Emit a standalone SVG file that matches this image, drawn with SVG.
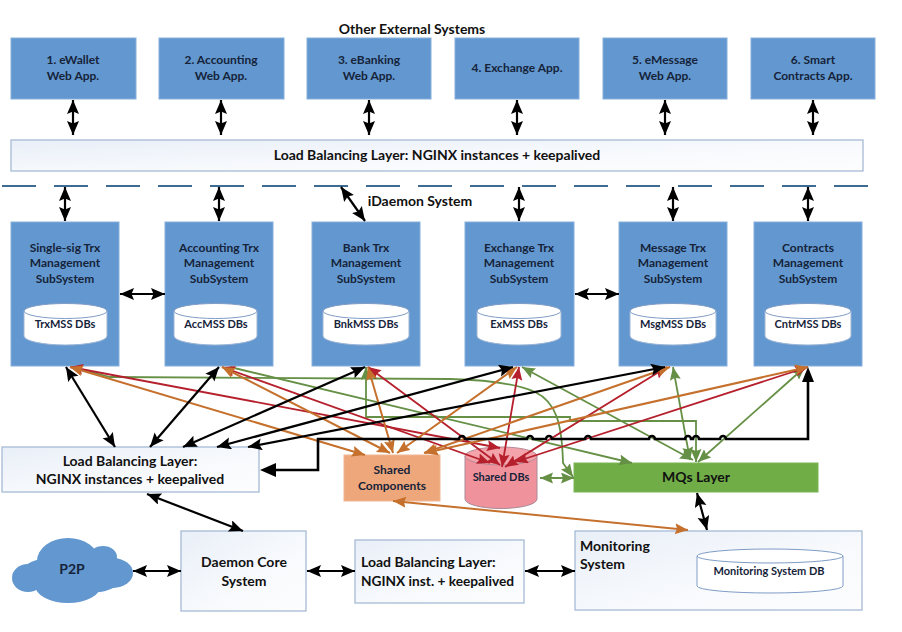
<svg xmlns="http://www.w3.org/2000/svg" width="902" height="632" viewBox="0 0 902 632">
<style>
text{font-family:"Lato","Open Sans","Liberation Sans",sans-serif;font-weight:700;text-anchor:middle;fill:#16233a;font-size:12px}
.app{fill:#6298cf;stroke:#86aedb;stroke-width:1}
.light{fill:url(#pale);stroke:#a6bbd6;stroke-width:1.3}
.db{fill:#fff;stroke:#9db5d6;stroke-width:1}
.dbtop{fill:#fff;stroke:#7f9cc6;stroke-width:1}
.big{font-size:14px;fill:#111}
.dbl{font-size:11px}
.blk,.red,.org,.grn,.thk{fill:none}
.blk{stroke:#000;stroke-width:2.2}
.thk{stroke:#000;stroke-width:2.6}
.red{stroke:#b5202c;stroke-width:1.8}
.org{stroke:#c5702c;stroke-width:2}
.grn{stroke:#659045;stroke-width:1.8}
.blk{marker-start:url(#ab);marker-end:url(#ab)}
.red{marker-start:url(#ar);marker-end:url(#ar)}
.org{marker-start:url(#ao);marker-end:url(#ao)}
.grn{marker-start:url(#ag);marker-end:url(#ag)}
</style>
<defs>
<linearGradient id="pale" x1="0" y1="0" x2="1" y2="1"><stop offset="0" stop-color="#e9eff8"/><stop offset="0.6" stop-color="#f8fafd"/><stop offset="1" stop-color="#fdfdfe"/></linearGradient>
<marker id="ab" markerUnits="userSpaceOnUse" markerWidth="16" markerHeight="13" refX="14" refY="6" orient="auto-start-reverse"><path d="M0 0L14 6L0 12L2.500 6Z" fill="#000"/></marker>
<marker id="ar" markerUnits="userSpaceOnUse" markerWidth="15" markerHeight="13" refX="13" refY="5.500" orient="auto-start-reverse"><path d="M0 0L13 5.500L0 11L2 5.500Z" fill="#b5202c"/></marker>
<marker id="ao" markerUnits="userSpaceOnUse" markerWidth="15" markerHeight="13" refX="13" refY="5.500" orient="auto-start-reverse"><path d="M0 0L13 5.500L0 11L2 5.500Z" fill="#c5702c"/></marker>
<marker id="ag" markerUnits="userSpaceOnUse" markerWidth="15" markerHeight="13" refX="13" refY="5.500" orient="auto-start-reverse"><path d="M0 0L13 5.500L0 11L2 5.500Z" fill="#659045"/></marker>
</defs>
<rect width="902" height="632" fill="#fff"/>

<text id="external-title" x="412" y="34" class="big">Other External Systems</text>
<text id="idaemon-title" x="420" y="206" class="big">iDaemon System</text>

<g id="app-1"><rect class="app" x="11" y="38" width="125" height="61"/><text x="73" y="64">1. eWallet</text><text x="73" y="80">Web App.</text></g>
<g id="app-2"><rect class="app" x="159" y="38" width="125" height="61"/><text x="221" y="64">2. Accounting</text><text x="221" y="80">Web App.</text></g>
<g id="app-3"><rect class="app" x="307" y="38" width="124" height="61"/><text x="369" y="64">3. eBanking</text><text x="369" y="80">Web App.</text></g>
<g id="app-4"><rect class="app" x="455" y="38" width="124" height="61"/><text x="517" y="72">4. Exchange App.</text></g>
<g id="app-5"><rect class="app" x="603" y="38" width="124" height="61"/><text x="665" y="64">5. eMessage</text><text x="665" y="80">Web App.</text></g>
<g id="app-6"><rect class="app" x="751" y="38" width="124" height="61"/><text x="813" y="64">6. Smart</text><text x="813" y="80">Contracts App.</text></g>

<g id="lb-top"><rect class="light" x="11" y="140" width="852" height="31"/><text x="437" y="160" class="big">Load Balancing Layer: NGINX instances + keepalived</text></g>
<path id="system-boundary" d="M2 186H868" fill="none" stroke="#3d6b92" stroke-width="2" stroke-dasharray="34 18"/>

<g id="sub-1"><rect class="app" x="11" y="222" width="108" height="144"/><text x="65" y="252">Single-sig Trx</text><text x="65" y="267">Management</text><text x="65" y="283">SubSystem</text>
<path class="db" d="M24 311V336A41.500 9 0 0 0 107 336V311Z"/><ellipse class="dbtop" cx="65.500" cy="311" rx="41.500" ry="7.500"/><text x="65" y="328" class="dbl">TrxMSS DBs</text></g>
<g id="sub-2"><rect class="app" x="165" y="222" width="108" height="144"/><text x="219" y="252">Accounting Trx</text><text x="219" y="267">Management</text><text x="219" y="283">SubSystem</text>
<path class="db" d="M174 311V336A41.500 9 0 0 0 257 336V311Z"/><ellipse class="dbtop" cx="215.500" cy="311" rx="41.500" ry="7.500"/><text x="216" y="328" class="dbl">AccMSS DBs</text></g>
<g id="sub-3"><rect class="app" x="312" y="222" width="108" height="144"/><text x="366" y="252">Bank Trx</text><text x="366" y="267">Management</text><text x="366" y="283">SubSystem</text>
<path class="db" d="M323 311V336A43 9 0 0 0 409 336V311Z"/><ellipse class="dbtop" cx="366" cy="311" rx="43" ry="7.500"/><text x="366" y="328" class="dbl">BnkMSS DBs</text></g>
<g id="sub-4"><rect class="app" x="465" y="222" width="109" height="144"/><text x="519" y="252">Exchange Trx</text><text x="519" y="267">Management</text><text x="519" y="283">SubSystem</text>
<path class="db" d="M477 311V336A42 9 0 0 0 561 336V311Z"/><ellipse class="dbtop" cx="519" cy="311" rx="42" ry="7.500"/><text x="519" y="328" class="dbl">ExMSS DBs</text></g>
<g id="sub-5"><rect class="app" x="619" y="222" width="108" height="144"/><text x="673" y="252">Message Trx</text><text x="673" y="267">Management</text><text x="673" y="283">SubSystem</text>
<path class="db" d="M630 311V336A43 9 0 0 0 716 336V311Z"/><ellipse class="dbtop" cx="673" cy="311" rx="43" ry="7.500"/><text x="673" y="328" class="dbl">MsgMSS DBs</text></g>
<g id="sub-6"><rect class="app" x="754" y="222" width="108" height="144"/><text x="808" y="252">Contracts</text><text x="808" y="267">Management</text><text x="808" y="283">SubSystem</text>
<path class="db" d="M765 311V336A43 9 0 0 0 851 336V311Z"/><ellipse class="dbtop" cx="808" cy="311" rx="43" ry="7.500"/><text x="808" y="328" class="dbl">CntrMSS DBs</text></g>

<g id="lb-left"><rect class="light" x="2" y="447" width="257" height="45"/><text x="130" y="466" class="big">Load Balancing Layer:</text><text x="130" y="484" class="big">NGINX instances + keepalived</text></g>
<g id="shared-components"><rect x="344" y="455" width="96" height="46" fill="#eea77b" stroke="#f0b58f"/><text x="392" y="474">Shared</text><text x="392" y="490">Components</text></g>
<g id="shared-dbs"><path d="M465 456V499A36 9.500 0 0 0 537 499V456Z" fill="#f0929c" stroke="#a88b96"/><ellipse cx="501" cy="456" rx="36" ry="9" fill="#f4a3ab" stroke="#b58a94"/><text x="501" y="481" class="dbl">Shared DBs</text></g>
<g id="mq-layer"><rect x="574" y="463" width="244" height="29" fill="#70ad47" stroke="#7db556"/><text x="696" y="482" class="big">MQs Layer</text></g>

<g id="p2p" fill="#6298cf"><ellipse cx="28" cy="578" rx="16" ry="14"/><ellipse cx="68" cy="561" rx="31" ry="23"/><ellipse cx="103" cy="557" rx="14" ry="11"/><ellipse cx="113" cy="573" rx="20" ry="15"/><ellipse cx="68" cy="585" rx="33" ry="18"/><ellipse cx="45" cy="575" rx="24" ry="16"/><ellipse cx="96" cy="581" rx="22" ry="11"/><text x="72" y="574" class="big" style="fill:#16233a">P2P</text></g>
<g id="daemon-core"><rect class="light" x="181" y="531" width="125" height="80"/><text x="244" y="567" class="big">Daemon Core</text><text x="244" y="586" class="big">System</text></g>
<g id="lb-bottom"><rect class="light" x="355" y="540" width="169" height="63"/><text x="361" y="567" class="big" style="text-anchor:start">Load Balancing Layer:</text><text x="361" y="586" class="big" style="text-anchor:start;font-size:13.700px">NGINX inst. + keepalived</text></g>
<g id="monitoring"><rect class="light" x="575" y="531" width="287" height="79"/><text x="580" y="551" class="big" style="text-anchor:start">Monitoring</text><text x="580" y="569" class="big" style="text-anchor:start">System</text>
<path d="M697 556V586A73 7 0 0 0 843 586V556Z" fill="#fff" stroke="#7f9cc6"/><ellipse cx="770" cy="556" rx="73" ry="7" fill="#fff" stroke="#7f9cc6"/><text x="769" y="575" class="dbl">Monitoring System DB</text></g>

<g id="connectors">
<path class="blk" d="M73 100V135"/><path class="blk" d="M221 100V135"/><path class="blk" d="M369 100V135"/><path class="blk" d="M517 100V135"/><path class="blk" d="M665 100V135"/><path class="blk" d="M813 100V135"/>
<path class="blk" d="M65 187V221"/><path class="blk" d="M219 187V221"/><path class="blk" d="M341 187L365 221"/><path class="blk" d="M519 187V221"/><path class="blk" d="M673 187V221"/><path class="blk" d="M808 187V221"/>
<path class="blk" d="M120 294H165"/><path class="blk" d="M575 294H619"/>

<path class="grn" d="M72 367L110 377L450 379C490 380 517 384 535 392C556 402 562 423 563 463L573 477" style="marker-start:none"/>
<path class="grn" d="M230 367L632 463" style="marker-start:none"/>
<path class="grn" d="M366 367V417H570V421H696V462"/>
<path class="grn" d="M522 367L693 460"/>
<path class="grn" d="M673 367L690 460"/>
<path class="grn" d="M805 367L698 462"/>
<path class="grn" d="M540 478H574"/>

<path class="red" d="M70 367L500 448"/>
<path class="red" d="M222 367L490 463"/>
<path class="red" d="M368 367L500 465"/>
<path class="red" d="M519 367L502 467"/>
<path class="red" d="M667 367L505 467"/>
<path class="red" d="M808 367L515 462"/>

<path class="org" d="M70 367L365 455"/>
<path class="org" d="M222 367L390 453"/>
<path class="org" d="M368 367L393 453"/>
<path class="org" d="M517 367L397 453"/>
<path class="org" d="M670 367L424 453"/>
<path class="org" d="M808 367L425 453"/>
<path class="org" d="M393 501L688 530"/>

<path class="blk" d="M66 367L115 447"/>
<path class="blk" d="M219 367L150 447"/>
<path class="blk" d="M365 367L183 447"/>
<path class="blk" d="M513 367L217 447"/>
<path class="blk" d="M665 367L248 447"/>
<path class="thk" d="M808 378V439H726a3 3 0 0 0 -6 0H699a3 3 0 0 0 -6 0H691a3 3 0 0 0 -6 0H655a3 3 0 0 0 -6 0H591a3 3 0 0 0 -6 0H552a3 3 0 0 0 -6 0H533a3 3 0 0 0 -6 0H465a3 3 0 0 0 -6 0H318V470H270"/>
<path d="M808 367L802 382H814Z" fill="#000"/>
<path d="M260 470L276 463V477Z" fill="#000"/>

<path class="blk" d="M147 494L243 531"/>
<path class="blk" d="M697 493L707 530"/>
<path class="blk" d="M133 571H181"/>
<path class="blk" d="M307 571H355"/>
<path class="blk" d="M525 571H575"/>
</g>
</svg>
